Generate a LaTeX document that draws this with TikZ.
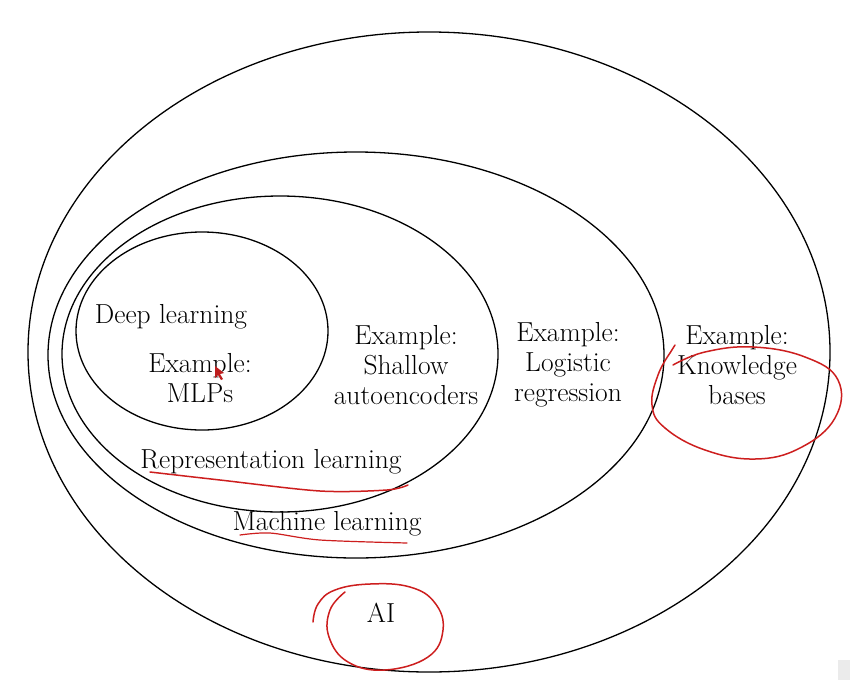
\documentclass[tikz,border=0pt]{standalone}
\definecolor{inkred}{RGB}{205,30,30}
\definecolor{cursred}{RGB}{190,30,30}
\begin{document}
\begin{tikzpicture}[x=1pt,y=-1pt,
  ring/.style={draw=black,line width=1.3pt},
  lbl/.style={align=center,inner sep=0pt,font=\fontsize{27.5}{30}\selectfont},
  ink/.style={draw=inkred,line width=1.5pt,line cap=round,line join=round}]
\useasboundingbox (0,0) rectangle (850,680);
\fill[white] (0,0) rectangle (850,680);
% ellipses
\coordinate (cAI) at (429,352);
\coordinate (cML) at (356,355);
\coordinate (cRL) at (280,354);
\coordinate (cDL) at (202,331);
\draw[ring] (cAI) ellipse [x radius=401, y radius=320];
\draw[ring] (cML) ellipse [x radius=308, y radius=203];
\draw[ring] (cRL) ellipse [x radius=218, y radius=158];
\draw[ring] (cDL) ellipse [x radius=126, y radius=99];
% labels
\node[lbl] (dl) at (171,317) {Deep learning};
\node[lbl] (mlp) at (200,378) {Example:\\MLPs};
\node[lbl] (sae) at (406,365) {Example:\\Shallow\\autoencoders};
\node[lbl] (lr) at (568,365) {Example:\\Logistic\\regression};
\node[lbl] (kb) at (737,365) {Example:\\Knowledge\\bases};
\node[lbl] (rl) at (271,462) {Representation learning};
\node[lbl] (ml) at (327,524) {Machine learning};
\node[lbl] (ai) at (381,613) {AI};
% red annotations
\draw[ink] plot[smooth,tension=0.6] coordinates {(675,345) (670,353)};
\draw[ink] plot[smooth,tension=0.7] coordinates {(673,365) (705,352) (753,347) (805,357) (838,380) (835,418) (800,448) (755,459) (705,450) (665,428) (652,405) (658,375) (670,353)};
\draw[ink] plot[smooth,tension=0.7] coordinates {(313,622) (318,604) (335,590) (370,584) (410,587) (435,603) (443,630) (428,657) (385,670) (348,662) (329,637) (330,610) (345,592)};
\draw[ink] plot[smooth,tension=0.5] coordinates {(150,472) (220,480) (320,491) (387,490) (408,485)};
\draw[ink,line width=1.2pt] plot[smooth,tension=0.5] coordinates {(240,535) (270,533) (320,540) (407,543)};
% cursor
\fill[cursred] (215,366) -- (215,378) -- (218,375) -- (221,380) -- (223,379) -- (220,374) -- (224,373) -- cycle;
% corner artifact
\fill[black!8] (838,660) rectangle (850,680);
\end{tikzpicture}
\end{document}
